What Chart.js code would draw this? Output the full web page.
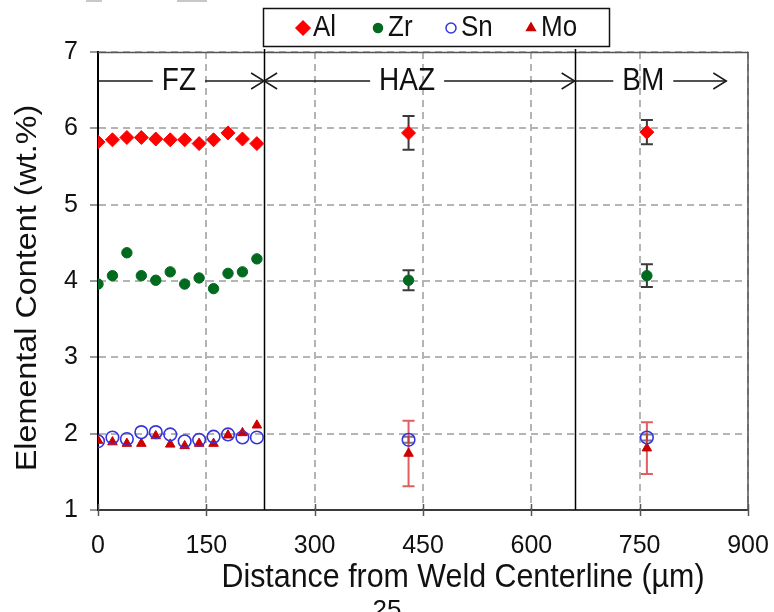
<!DOCTYPE html>
<html>
<head>
<meta charset="utf-8">
<script src="https://cdn.jsdelivr.net/npm/chart.js@4.4.1/dist/chart.umd.min.js"></script>
<style>
  html, body { margin: 0; padding: 0; background: #ffffff; }
  #wrap { width: 774px; height: 612px; position: relative; }
</style>
</head>
<body>
<div id="wrap"><canvas id="c" width="774" height="612"></canvas></div>
<script>
// Distance from weld centerline (µm): 12 fusion-zone points, one HAZ and one base-metal point
const distance = [0, 20, 40, 60, 80, 100, 120, 140, 160, 180, 200, 220, 430, 760];

// Elemental content (wt.%)
const al = [5.82, 5.85, 5.88, 5.88, 5.86, 5.85, 5.85, 5.80, 5.85, 5.94, 5.86, 5.80, 5.94, 5.95];
const zr = [3.96, 4.07, 4.37, 4.07, 4.01, 4.12, 3.96, 4.04, 3.90, 4.10, 4.12, 4.29, 4.01, 4.07];
const sn = [1.90, 1.95, 1.93, 2.02, 2.02, 1.99, 1.90, 1.92, 1.96, 1.99, 1.95, 1.95, 1.92, 1.95];
const mo = [1.91, 1.89, 1.87, 1.87, 1.97, 1.86, 1.84, 1.87, 1.87, 1.98, 2.01, 2.11, 1.74, 1.81];

// Standard deviations (only the HAZ and BM averages carry them)
const alErr = [null, null, null, null, null, null, null, null, null, null, null, null, 0.22, 0.16];
const zrErr = [null, null, null, null, null, null, null, null, null, null, null, null, 0.13, 0.15];
const snErr = [null, null, null, null, null, null, null, null, null, null, null, null, 0.04, 0.04];
const moErr = [null, null, null, null, null, null, null, null, null, null, null, null, 0.43, 0.34];

// Zone boundaries along the distance axis and their labels
const zoneBounds = [0, 230, 660, 900];
const zoneNames = ['FZ', 'HAZ', 'BM'];
const zoneLabelAt = [112, 428, 755];
const bmArrowEnd = 870;
const zoneLevel = 6.62;

const xTicks = [0, 150, 300, 450, 600, 750, 900];
const yTicks = [1, 2, 3, 4, 5, 6, 7];

const seriesNames = ['Al', 'Zr', 'Sn', 'Mo'];
const xTitle = 'Distance from Weld Centerline (µm)';
const yTitle = 'Elemental Content (wt.%)';

const pts = vals => vals.map((v, i) => ({ x: distance[i], y: v }));

const TEXT = '#111111';
const SANS = "'Liberation Sans', Arial, sans-serif";
const STRETCH = 1.1;   // glyphs are drawn slightly taller than wide

const errorSets = [alErr, zrErr, snErr, moErr];
const errorColors = ['#3a3a3a', '#3a3a3a', '#7a7a8a', 'rgba(215,40,40,0.75)'];

// text drawn with a vertical stretch
function tallText(ctx, text, x, y, rotate) {
  ctx.save();
  ctx.translate(x, y);
  if (rotate) {
    ctx.rotate(-Math.PI / 2);
    ctx.scale(STRETCH, 1);
  } else {
    ctx.scale(1, STRETCH);
  }
  ctx.fillText(text, 0, 0);
  ctx.restore();
}

const decor = {
  id: 'decor',
  beforeDatasetsDraw(chart) {
    const { ctx, chartArea: a, scales: { x, y } } = chart;
    ctx.save();

    // top and right frame
    ctx.strokeStyle = '#555555';
    ctx.lineWidth = 1.5;
    ctx.beginPath();
    ctx.moveTo(a.left, a.top + 0.5);
    ctx.lineTo(a.right, a.top + 0.5);
    ctx.lineTo(a.right, a.bottom);
    ctx.stroke();

    // zone boundary lines
    ctx.strokeStyle = '#000000';
    ctx.lineWidth = 1.5;
    zoneBounds.slice(1, -1).forEach(v => {
      const px = Math.round(x.getPixelForValue(v)) + 0.5;
      ctx.beginPath();
      ctx.moveTo(px, a.top - 3);
      ctx.lineTo(px, a.bottom);
      ctx.stroke();
    });

    // x tick marks crossing the axis
    ctx.strokeStyle = '#555555';
    ctx.lineWidth = 1.5;
    xTicks.forEach(v => {
      const px = Math.round(x.getPixelForValue(v)) + 0.5;
      ctx.beginPath();
      ctx.moveTo(px, a.bottom - 6);
      ctx.lineTo(px, a.bottom + 6);
      ctx.stroke();
    });

    // zone arrows and labels
    const yy = y.getPixelForValue(zoneLevel);
    ctx.font = '28px ' + SANS;
    ctx.textAlign = 'center';
    ctx.textBaseline = 'middle';
    ctx.strokeStyle = '#1a1a1a';
    ctx.lineWidth = 1.5;
    const head = (px, dir) => {
      ctx.beginPath();
      ctx.moveTo(px - dir * 13, yy - 8);
      ctx.lineTo(px, yy);
      ctx.lineTo(px - dir * 13, yy + 8);
      ctx.stroke();
    };
    const segment = (x0, x1, label, at) => {
      const p0 = x.getPixelForValue(x0);
      const p1 = x.getPixelForValue(x1);
      const c = x.getPixelForValue(at);
      const half = ctx.measureText(label).width / 2 + 9;
      ctx.beginPath();
      ctx.moveTo(p0, yy); ctx.lineTo(c - half, yy);
      ctx.moveTo(c + half, yy); ctx.lineTo(p1, yy);
      ctx.stroke();
      ctx.fillStyle = TEXT;
      tallText(ctx, label, c, yy + 1, false);
      return [p0, p1];
    };
    const fz = segment(zoneBounds[0], zoneBounds[1], zoneNames[0], zoneLabelAt[0]);
    head(fz[1], 1);
    const haz = segment(zoneBounds[1], zoneBounds[2], zoneNames[1], zoneLabelAt[1]);
    head(haz[0], -1);
    head(haz[1], 1);
    const bm = segment(zoneBounds[2], bmArrowEnd, zoneNames[2], zoneLabelAt[2]);
    head(bm[1], 1);

    // error bars
    errorSets.forEach((errs, d) => {
      const vals = chart.data.datasets[d].data;
      ctx.strokeStyle = errorColors[d];
      ctx.lineWidth = 2;
      errs.forEach((e, i) => {
        if (e == null) return;
        const px = x.getPixelForValue(vals[i].x);
        const hi = y.getPixelForValue(vals[i].y + e);
        const lo = y.getPixelForValue(vals[i].y - e);
        ctx.beginPath();
        ctx.moveTo(px, hi); ctx.lineTo(px, lo);
        ctx.moveTo(px - 6, hi); ctx.lineTo(px + 6, hi);
        ctx.moveTo(px - 6, lo); ctx.lineTo(px + 6, lo);
        ctx.stroke();
      });
    });
    ctx.restore();
  },
  afterDraw(chart) {
    const { ctx } = chart;
    ctx.save();
    ctx.fillStyle = TEXT;
    ctx.textAlign = 'center';
    ctx.textBaseline = 'middle';

    // axis titles
    ctx.font = '30.4px ' + SANS;
    tallText(ctx, xTitle, 463, 578, false);
    ctx.font = '29.4px ' + SANS;
    tallText(ctx, yTitle, 28, 288, true);

    // legend box
    ctx.strokeStyle = '#111111';
    ctx.lineWidth = 1.5;
    ctx.strokeRect(263.5, 8.5, 346, 38);
    const itemX = [303, 378, 451, 531];
    ctx.font = '26px ' + SANS;
    ctx.textAlign = 'left';
    chart.data.datasets.forEach((ds, i) => {
      ctx.fillStyle = ds.backgroundColor;
      ctx.strokeStyle = ds.borderColor;
      Chart.helpers.drawPoint(ctx, {
        pointStyle: ds.pointStyle,
        radius: ds.legendRadius,
        borderWidth: ds.borderWidth,
        rotation: 0
      }, itemX[i], 28);
      ctx.fillStyle = TEXT;
      tallText(ctx, seriesNames[i], itemX[i] + 10, 28, false);
    });

    // page number
    ctx.font = '26px ' + SANS;
    ctx.textAlign = 'center';
    ctx.textBaseline = 'alphabetic';
    ctx.fillStyle = TEXT;
    ctx.fillText('25', 387, 618);

    // small marks at the top edge
    ctx.fillStyle = '#c8c8c8';
    ctx.fillRect(86, 0, 16, 2);
    ctx.fillRect(177, 0, 30, 2);
    ctx.restore();
  }
};

new Chart(document.getElementById('c'), {
  type: 'scatter',
  data: {
    datasets: [
      { label: seriesNames[0], data: pts(al), pointStyle: 'rectRot', radius: 7, legendRadius: 7,
        backgroundColor: '#ff0000', borderColor: '#ff0000', borderWidth: 1 },
      { label: seriesNames[1], data: pts(zr), pointStyle: 'circle', radius: 5.2, legendRadius: 4.5,
        backgroundColor: '#006a1e', borderColor: '#006a1e', borderWidth: 1 },
      { label: seriesNames[2], data: pts(sn), pointStyle: 'circle', radius: 6.3, legendRadius: 5,
        backgroundColor: 'rgba(0,0,0,0)', borderColor: '#3535dd', borderWidth: 1.6 },
      { label: seriesNames[3], data: pts(mo), pointStyle: 'triangle', radius: 5.5, legendRadius: 5,
        backgroundColor: '#cc0000', borderColor: '#cc0000', borderWidth: 1 }
    ]
  },
  options: {
    responsive: false,
    animation: false,
    devicePixelRatio: 1,
    layout: { padding: { top: 52, right: 26, left: 0, bottom: 0 } },
    plugins: { legend: { display: false }, tooltip: { enabled: false } },
    elements: { point: { hoverRadius: 7 } },
    scales: {
      x: {
        type: 'linear', min: 0, max: 900,
        afterFit: s => { s.height = 102; s.paddingLeft = 0; s.paddingRight = 0; },
        afterBuildTicks: s => { s.ticks = xTicks.map(v => ({ value: v })); },
        ticks: { color: TEXT, font: { family: SANS, size: 25 }, padding: 21, maxRotation: 0 },
        grid: { color: '#b4b4b4', lineWidth: 2, drawTicks: false },
        border: { display: true, color: '#3a3a3a', width: 2, dash: [7, 5] }
      },
      y: {
        type: 'linear', min: 1, max: 7,
        afterFit: s => { s.width = 98; s.paddingTop = 0; s.paddingBottom = 0; },
        afterBuildTicks: s => { s.ticks = yTicks.map(v => ({ value: v })); },
        ticks: { color: TEXT, font: { family: SANS, size: 25 }, padding: 12 },
        grid: { color: '#b4b4b4', lineWidth: 2, tickLength: 8, tickColor: '#777777', tickWidth: 1.5 },
        border: { display: true, color: '#000000', width: 2, dash: [7, 5] }
      }
    }
  },
  plugins: [decor]
});
</script>
</body>
</html>
